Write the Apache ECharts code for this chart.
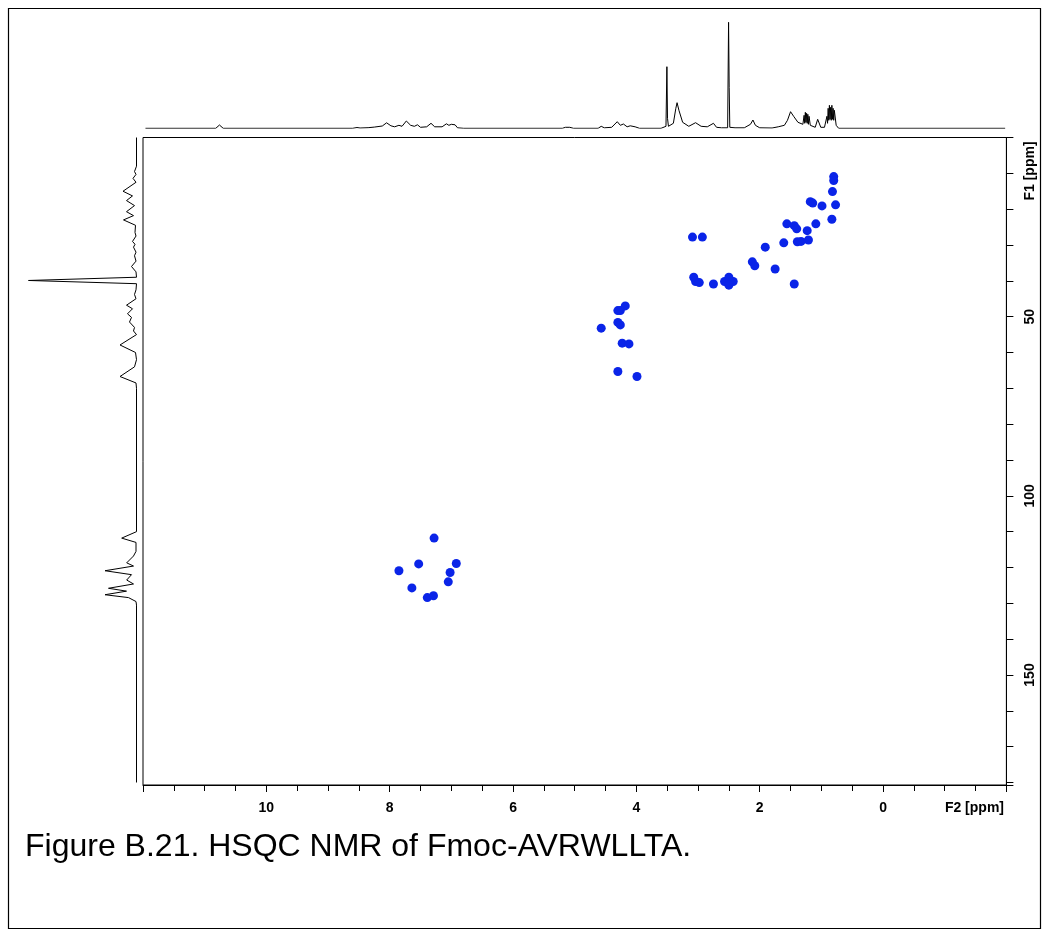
<!DOCTYPE html>
<html>
<head>
<meta charset="utf-8">
<title>HSQC NMR of Fmoc-AVRWLLTA</title>
<script src="https://cdn.jsdelivr.net/npm/echarts@6/dist/echarts.min.js"></script>
<style>
  html, body { margin: 0; padding: 0; background: #fff; }
  #chart { width: 1051px; height: 939px; }
</style>
</head>
<body>
<div id="chart"></div>
<script>
// F2 (1H) and F1 (13C) axis ranges, ppm
const f2Range = [-2, 12];
const f1Range = [0, 180.7];
const f2Labels = [0, 2, 4, 6, 8, 10];
const f1Labels = [50, 100, 150];

// HSQC cross peaks: [F2 ppm, F1 ppm]
const aliphaticPeaks = [
  [0.80, 10.9], [0.80, 12.0], [0.82, 15.1], [1.18, 17.9], [1.14, 18.3],
  [0.99, 19.1], [0.77, 18.8], [0.83, 22.8], [1.09, 24.1], [1.56, 24.1],
  [1.44, 24.6], [1.40, 25.5], [1.23, 26.0], [1.21, 28.6], [1.39, 29.1],
  [1.33, 29.0], [1.61, 29.4], [3.09, 27.8], [2.93, 27.8], [1.91, 30.6],
  [2.12, 34.7], [2.08, 35.8], [1.75, 36.7], [3.04, 40.2], [3.07, 39.0],
  [2.98, 40.5], [2.75, 40.9], [2.50, 40.0], [2.57, 40.2], [2.43, 40.2],
  [2.50, 39.0], [2.50, 41.2], [1.44, 40.9]
];
const alphaPeaks = [
  [4.18, 47.0], [4.26, 48.3], [4.30, 48.3], [4.57, 53.2], [4.30, 51.6],
  [4.26, 52.3], [4.23, 57.4], [4.12, 57.6], [4.30, 65.3], [3.99, 66.7]
];
const aromaticPeaks = [
  [7.28, 111.8], [7.53, 119.0], [7.85, 120.9], [6.92, 118.9], [7.02, 121.4],
  [7.05, 124.0], [7.64, 125.7], [7.39, 128.4], [7.29, 127.9]
];

// 1H projection trace: [F2 ppm, intensity]
const protonTrace = [
  [11.96, 0], [10.82, 0], [10.76, 3.3], [10.70, 0],
  [8.60, 0], [8.53, 0.8], [8.48, 0.3], [8.35, 0.6], [8.25, 1.2], [8.12, 2.3],
  [8.05, 5.5], [7.98, 2.5], [7.92, 1.5], [7.85, 3.0], [7.80, 2.0], [7.73, 7.3],
  [7.66, 3.0], [7.60, 2.0], [7.55, 3.5], [7.50, 1.0], [7.40, 1.5], [7.33, 5.0],
  [7.30, 5.0], [7.27, 1.5], [7.15, 1.5], [7.08, 4.5], [7.04, 3.0], [7.00, 4.0],
  [6.97, 3.0], [6.94, 3.5], [6.90, 0.5], [6.80, 0],
  [5.20, 0], [5.15, 1.0], [5.08, 1.0], [5.02, 0],
  [4.62, 0], [4.57, 2.0], [4.52, 0.5], [4.40, 1.0], [4.31, 6.6], [4.26, 3.0],
  [4.21, 4.3], [4.15, 1.5], [4.10, 2.5], [4.02, 1.5], [3.95, 0],
  [3.60, 0], [3.52, 2.0], [3.505, 61.6], [3.495, 10.0], [3.48, 2.0],
  [3.40, 5.0], [3.36, 20.0], [3.34, 25.6], [3.31, 18.0], [3.25, 6.0],
  [3.15, 2.0], [3.04, 5.6], [2.95, 2.0], [2.85, 1.5], [2.75, 5.0],
  [2.70, 1.0], [2.62, 0.5], [2.52, 0.5], [2.505, 106.0], [2.495, 41.0],
  [2.485, 1.0], [2.40, 0.5], [2.25, 0.5], [2.15, 4.0], [2.11, 8.3],
  [2.07, 3.0], [2.00, 0.5], [1.80, 0.3], [1.70, 1.5], [1.60, 3.0],
  [1.55, 8.0], [1.50, 16.6], [1.45, 12.0], [1.38, 6.0], [1.30, 4.0],
  [1.28, 13.0], [1.27, 5.0], [1.26, 16.0], [1.25, 6.0], [1.24, 15.0],
  [1.23, 5.0], [1.22, 14.0], [1.21, 4.0], [1.20, 12.0], [1.18, 3.0],
  [1.15, 2.0], [1.10, 1.0], [1.06, 9.0], [1.04, 10.0], [1.01, 1.0],
  [0.95, 1.0], [0.91, 12.0], [0.90, 5.0], [0.89, 20.0], [0.88, 8.0],
  [0.87, 23.0], [0.86, 9.0], [0.85, 21.0], [0.84, 8.0], [0.83, 23.0],
  [0.82, 9.0], [0.81, 20.0], [0.80, 8.0], [0.79, 18.0], [0.76, 3.0],
  [0.72, 0], [-1.98, 0]
];

// 13C projection trace: [intensity, F1 ppm]
const carbonTrace = [
  [0, 0], [0, 8.0], [2.0, 9.5], [0.5, 10.3], [3.5, 11.4], [0.5, 12.5],
  [13.5, 15.0], [4.0, 16.3], [10.0, 17.6], [2.0, 19.0], [10.0, 20.7],
  [3.0, 21.8], [13.0, 23.0], [1.0, 24.5], [1.5, 26.5], [0.5, 27.5],
  [4.0, 29.0], [1.5, 29.8], [3.0, 30.6], [0.5, 32.0], [2.0, 33.0],
  [0.5, 34.5], [5.0, 36.0], [0.5, 37.5], [0, 39.0], [108.0, 39.9],
  [0, 40.8], [0.5, 42.5], [2.0, 43.8], [0.5, 45.0], [10.0, 46.8],
  [4.0, 47.8], [9.0, 49.2], [5.0, 50.2], [7.0, 51.5], [2.0, 53.0],
  [3.0, 54.0], [0, 55.0], [16.5, 57.9], [1.0, 60.0], [0, 62.0],
  [2.0, 64.0], [16.5, 66.7], [0.5, 68.5], [0, 70.0],
  [0, 110.0], [14.8, 111.8], [0.5, 113.0], [0.5, 115.5], [3.0, 116.8],
  [9.8, 118.7], [3.0, 119.6], [31.5, 120.9], [5.0, 122.0], [9.8, 123.5],
  [3.0, 124.6], [28.0, 125.8], [10.0, 126.6], [31.5, 127.6], [8.0, 128.4],
  [0.5, 129.5], [0, 130.5], [0, 180.0]
];

const FONT = 'Arial, "Liberation Sans", sans-serif';
const peakColor = '#0a24e8';

const chart = echarts.init(document.getElementById('chart'), null, { renderer: 'canvas' });

const main = { left: 143, top: 137.5, width: 863.4, height: 647.5 };

function peakSeries(data) {
  return {
    type: 'scatter', xAxisIndex: 0, yAxisIndex: 0, data: data,
    symbol: 'circle', symbolSize: 9,
    itemStyle: { color: peakColor, opacity: 1 },
    silent: true, clip: true
  };
}

chart.setOption({
  animation: false,
  backgroundColor: '#fff',
  grid: [
    { left: main.left, top: main.top, width: main.width, height: main.height,
      show: true, borderColor: '#000', borderWidth: 1, backgroundColor: 'transparent' },
    { left: main.left, top: 15, width: main.width, height: 113.3 },
    { left: 20, top: main.top, width: 116.5, height: main.height }
  ],
  xAxis: [
    {
      gridIndex: 0, type: 'value', min: f2Range[0], max: f2Range[1], inverse: true,
      interval: 2, position: 'bottom',
      axisLine: { show: true, onZero: false, lineStyle: { color: '#000', width: 1 } },
      axisTick: { show: true, inside: false, length: 7, lineStyle: { color: '#000' } },
      minorTick: { show: true, splitNumber: 4, length: 6, lineStyle: { color: '#000' } },
      splitLine: { show: false },
      axisLabel: {
        margin: 16, color: '#000', fontSize: 14, fontWeight: 'bold', fontFamily: FONT,
        formatter: v => (f2Labels.indexOf(v) >= 0 ? String(v) : '')
      }
    },
    { gridIndex: 1, type: 'value', min: f2Range[0], max: f2Range[1], inverse: true, show: false },
    { gridIndex: 2, type: 'value', min: 0, max: 116.5, inverse: true, show: false }
  ],
  yAxis: [
    {
      gridIndex: 0, type: 'value', min: f1Range[0], max: f1Range[1], inverse: true,
      interval: 10, position: 'right',
      axisLine: { show: true, onZero: false, lineStyle: { color: '#000', width: 1 } },
      axisTick: { show: true, inside: false, length: 7, lineStyle: { color: '#000' } },
      splitLine: { show: false },
      axisLabel: {
        margin: 17, rotate: 90, color: '#000', fontSize: 14, fontWeight: 'bold', fontFamily: FONT,
        formatter: v => (f1Labels.indexOf(v) >= 0 ? String(v) : '')
      }
    },
    { gridIndex: 1, type: 'value', min: 0, max: 113.3, show: false },
    { gridIndex: 2, type: 'value', min: f1Range[0], max: f1Range[1], inverse: true, show: false }
  ],
  series: [
    peakSeries(aliphaticPeaks),
    peakSeries(alphaPeaks),
    peakSeries(aromaticPeaks),
    {
      type: 'line', xAxisIndex: 1, yAxisIndex: 1, data: protonTrace,
      symbol: 'none', silent: true,
      lineStyle: { color: '#000', width: 1 }
    },
    {
      type: 'line', xAxisIndex: 2, yAxisIndex: 2, data: carbonTrace,
      symbol: 'none', silent: true,
      lineStyle: { color: '#000', width: 1 }
    }
  ],
  graphic: [
    { type: 'rect', silent: true,
      shape: { x: 8.5, y: 8.5, width: 1032, height: 920 },
      style: { fill: 'none', stroke: '#000', lineWidth: 1.2 } },
    { type: 'text', silent: true, x: 1004, y: 808,
      style: { text: 'F2 [ppm]', font: 'bold 14px ' + FONT, fill: '#000',
               textAlign: 'right', textVerticalAlign: 'middle' } },
    { type: 'text', silent: true, x: 1030, y: 171, rotation: Math.PI / 2,
      style: { text: 'F1 [ppm]', font: 'bold 14px ' + FONT, fill: '#000',
               textAlign: 'center', textVerticalAlign: 'middle' } },
    { type: 'text', silent: true, x: 25, y: 847,
      style: { text: 'Figure B.21. HSQC NMR of Fmoc-AVRWLLTA.', font: '32px ' + FONT,
               fill: '#000', textAlign: 'left', textVerticalAlign: 'middle' } }
  ]
});
</script>
</body>
</html>
